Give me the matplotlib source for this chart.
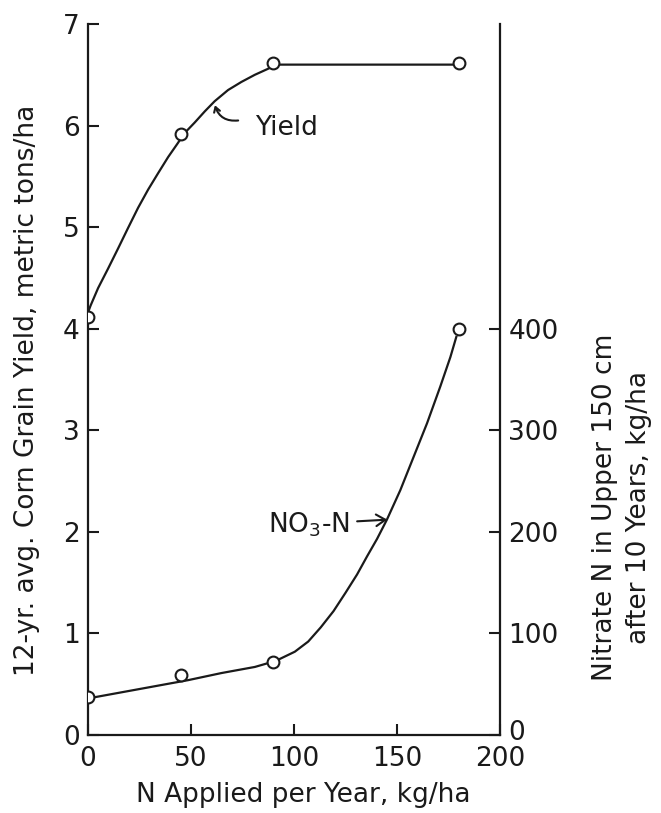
import matplotlib
matplotlib.use("Agg")
import matplotlib.pyplot as plt
from matplotlib.transforms import ScaledTranslation

# ---- data
n_applied = [0, 45, 90, 180]                  # kg N/ha per year
yield_obs = [4.12, 5.92, 6.62, 6.62]          # metric tons/ha
no3_obs = [37, 59, 72, 400]                   # kg/ha in upper 150 cm

# hand-drawn smooth curves
yield_curve_n = [0, 1.3, 4.9, 9.7, 14.6, 19.4, 24.3, 29.2, 34.0, 38.9, 43.7, 46.6,
                 51.8, 56.7, 61.5, 68.0, 74.5, 81.0, 87.5, 90.7, 180]
yield_curve_t = [4.16, 4.23, 4.40, 4.59, 4.79, 4.99, 5.19, 5.37, 5.53, 5.69, 5.83, 5.92,
                 6.03, 6.14, 6.24, 6.35, 6.43, 6.50, 6.56, 6.60, 6.60]
no3_curve_n = [0, 16.2, 32.4, 48.6, 64.8, 81.0, 91.2, 100.4, 106.9, 113.0, 119.2, 125.0,
               130.6, 135.5, 140.3, 145.1, 151.6, 158.1, 164.6, 171.0, 175.9, 178.8]
no3_curve_kg = [36, 42, 48, 54, 61, 67, 73, 82, 92, 106, 122, 140,
                158, 176, 193, 212, 241, 274, 307, 343, 372, 392]

x_ticks = [0, 50, 100, 150, 200]
yield_ticks = [0, 1, 2, 3, 4, 5, 6, 7]
no3_ticks = [0, 100, 200, 300, 400]

ink = "#1a1a1a"
fs = 19

plt.rcParams["font.family"] = ["DejaVu Sans"]

fig = plt.figure(figsize=(6.61, 8.13), dpi=100)
ax = fig.add_axes([88 / 661, 1 - 735 / 813, 412 / 661, 711 / 813])
ax2 = ax.twinx()

ax.set_xlim(0, 200)
ax.set_ylim(0, 7)
ax2.set_ylim(0, 700)

# ---- curves and observed points
ax.plot(yield_curve_n, yield_curve_t, color=ink, lw=1.6, solid_joinstyle="round", zorder=2)
ax.plot(n_applied, yield_obs, "o", ms=8.5, mfc="white", mec=ink, mew=1.5, zorder=3)
ax2.plot(no3_curve_n, no3_curve_kg, color=ink, lw=1.6, solid_joinstyle="round", zorder=2)
ax2.plot(n_applied, no3_obs, "o", ms=8.5, mfc="white", mec=ink, mew=1.5, zorder=3)

# ---- labels on the curves
ax.text(81.1, 5.91, "Yield", ha="left", va="baseline", fontsize=fs, color=ink)
ax.annotate("", xy=(61.6, 6.20), xytext=(72.9, 6.05),
            arrowprops=dict(arrowstyle="->,head_length=0.35,head_width=0.22", color=ink,
                            lw=1.5, shrinkA=0, shrinkB=0,
                            connectionstyle="arc3,rad=-0.4"))
ax2.annotate(r"NO$_3$-N", xy=(145.3, 212), xytext=(107.4, 199), ha="center", va="baseline",
             fontsize=fs, color=ink,
             arrowprops=dict(arrowstyle="->,head_length=0.35,head_width=0.22", color=ink,
                             lw=1.5, shrinkA=3, shrinkB=0, relpos=(1.0, 0.62)))

# ---- axes styling
for a in (ax, ax2):
    a.spines["top"].set_visible(False)
    for s in a.spines.values():
        s.set_color(ink)
        s.set_linewidth(1.6)
ax.spines["right"].set_visible(False)
ax2.spines["left"].set_visible(False)
ax2.spines["bottom"].set_visible(False)

ax.set_xticks(x_ticks)
ax.set_yticks(yield_ticks)
ax2.set_yticks(no3_ticks)
ax.tick_params(axis="both", direction="in", length=8, width=1.5, colors=ink,
               labelsize=fs, pad=6)
ax.tick_params(axis="x", pad=8)
ax2.tick_params(axis="y", direction="in", length=8, width=1.5, colors=ink,
                labelsize=fs, pad=6)

# lift the right-hand "0" a little so it clears the "200" below it
zero_lbl = ax2.get_yticklabels()[0]
zero_lbl.set_transform(zero_lbl.get_transform()
                       + ScaledTranslation(0, 5 / 100, fig.dpi_scale_trans))

fig.text(27 / 661, 1 - 390 / 813, "12-yr. avg. Corn Grain Yield, metric tons/ha",
         rotation=90, ha="center", va="center", fontsize=fs, color=ink)
fig.text(622 / 661, 1 - 507 / 813, "Nitrate N in Upper 150 cm\nafter 10 Years, kg/ha",
         rotation=90, ha="center", va="center", multialignment="center",
         linespacing=1.45, fontsize=fs, color=ink)
fig.text(303 / 661, 1 - 795 / 813, "N Applied per Year, kg/ha",
         ha="center", va="center", fontsize=fs, color=ink)

fig.savefig("out.png", dpi=100, facecolor="white")
